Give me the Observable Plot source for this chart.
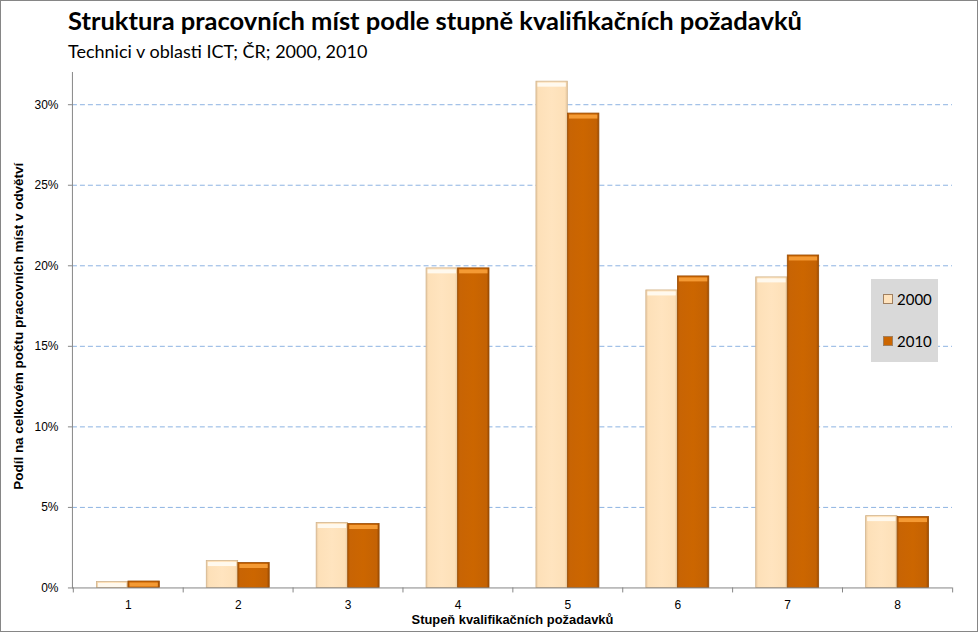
<!DOCTYPE html>
<html>
<head>
<meta charset="utf-8">
<script src="https://cdn.jsdelivr.net/npm/d3@7"></script>
<script src="https://cdn.jsdelivr.net/npm/@observablehq/plot@0.6"></script>
<style>
  html, body { margin: 0; padding: 0; background: #fff; }
  #chart { position: relative; width: 978px; height: 632px; box-sizing: border-box; border: 1px solid #868686; overflow: hidden; }
  #title { position: absolute; left: 67px; top: 4px; font-family: Lato, "Open Sans", sans-serif; font-weight: bold; font-size: 25.5px; color: #000; white-space: nowrap; }
  #subtitle { position: absolute; left: 67px; top: 39px; font-family: Lato, "Open Sans", sans-serif; font-size: 18px; color: #000; white-space: nowrap; }
  #plot { position: absolute; left: -1px; top: 59px; }
  #legend { position: absolute; left: 870px; top: 278px; width: 67px; height: 83px; background: #d9d9d9; font-family: Lato, "Open Sans", sans-serif; font-size: 15px; color: #000; }
  .item { position: absolute; left: 12px; display: flex; align-items: center; }
  .sw { width: 8px; height: 8px; margin-right: 4px; border: 1px solid #a08060; }
</style>
</head>
<body>
<div id="chart">
  <div id="title"></div>
  <div id="subtitle"></div>
  <div id="plot"></div>
  <div id="legend"></div>
</div>
<script>
const title = "Struktura pracovních míst podle stupně kvalifikačních požadavků";
const subtitle = "Technici v oblasti ICT; ČR; 2000, 2010";
const yLabel = "Podíl na celkovém počtu pracovních míst v odvětví";
const xLabel = "Stupeň kvalifikačních požadavků";
const categories = ["1", "2", "3", "4", "5", "6", "7", "8"];
const series = ["2000", "2010"];
const v2000 = [0.37, 1.67, 4.03, 19.84, 31.43, 18.47, 19.28, 4.46];
const v2010 = [0.40, 1.55, 3.97, 19.84, 29.45, 19.34, 20.64, 4.40];
const yTicks = [0, 5, 10, 15, 20, 25, 30];
const colors = {"2000": "#ffe3bd", "2010": "#cc6600"};

document.getElementById("title").textContent = title;
document.getElementById("subtitle").textContent = subtitle;

const d2000 = categories.map((c, i) => ({cat: c, v: v2000[i]}));
const d2010 = categories.map((c, i) => ({cat: c, v: v2010[i]}));

const axisColor = "#868686";
const chart = Plot.plot({
  width: 978,
  height: 573,
  marginTop: 12,
  marginBottom: 45,
  marginLeft: 72,
  marginRight: 25,
  style: {fontFamily: "'Liberation Sans', Arial, sans-serif", fontSize: "12px", background: "transparent", color: "#000"},
  x: {domain: categories, padding: 0, axis: null},
  y: {domain: [0, 32], axis: null},
  marks: [
    Plot.ruleY(yTicks.filter(d => d > 0), {stroke: "#8db3e2", strokeDasharray: "5,3"}),
    Plot.barY(d2000, {x: "cat", y: "v", insetLeft: 23.5, insetRight: 55.1, fill: "url(#g2000)", stroke: "#d2b48c", strokeWidth: 0.8}),
    Plot.barY(d2010, {x: "cat", y: "v", insetLeft: 55.1, insetRight: 23.5, fill: "url(#g2010)", stroke: "#9a4d05", strokeWidth: 0.8}),
    Plot.tickY(d2000, {x: "cat", y: "v", insetLeft: 25, insetRight: 56.6, dy: 3, strokeWidth: 4, stroke: "#fff9ee"}),
    Plot.tickY(d2010, {x: "cat", y: "v", insetLeft: 56.6, insetRight: 25, dy: 3, strokeWidth: 4, stroke: "#f49a34"}),
    Plot.frame({anchor: "left", stroke: axisColor}),
    Plot.ruleY([0], {stroke: axisColor}),
    Plot.axisY({ticks: yTicks, tickSize: 4, tickPadding: 10, tickFormat: d => d + "%", label: null, stroke: axisColor}),
    Plot.axisX({tickSize: 0, tickPadding: 13, label: null}),
    Plot.axisX({tickSize: 5, text: null, label: null, dx: -55.125, stroke: axisColor}),
    Plot.axisX({ticks: ["8"], tickSize: 5, text: null, label: null, dx: 55.125, stroke: axisColor}),
    Plot.text([yLabel], {text: d => d, frameAnchor: "left", textAnchor: "middle", rotate: -90, dx: -54, dy: -4, fontWeight: "bold", fontSize: 13.5}),
    Plot.text([xLabel], {text: d => d, frameAnchor: "bottom", dy: 36, fontWeight: "bold", fontSize: 12.9})
  ]
});

const ns = "http://www.w3.org/2000/svg";
const defs = document.createElementNS(ns, "defs");
function grad(id, stops) {
  const g = document.createElementNS(ns, "linearGradient");
  g.setAttribute("id", id);
  g.setAttribute("x1", "0"); g.setAttribute("x2", "1"); g.setAttribute("y1", "0"); g.setAttribute("y2", "0");
  for (const [o, c] of stops) {
    const s = document.createElementNS(ns, "stop");
    s.setAttribute("offset", o); s.setAttribute("stop-color", c);
    g.appendChild(s);
  }
  defs.appendChild(g);
}
grad("g2000", [["0", "#e8c9a2"], ["0.08", "#fde0b8"], ["0.5", "#ffe4bf"], ["0.92", "#fde0b8"], ["1", "#e6c8a0"]]);
grad("g2010", [["0", "#b25803"], ["0.08", "#c86404"], ["0.5", "#cc6600"], ["0.92", "#c46203"], ["1", "#9a4b02"]]);
chart.insertBefore(defs, chart.firstChild);
document.getElementById("plot").appendChild(chart);

const legend = document.getElementById("legend");
series.forEach((s, i) => {
  const item = document.createElement("div");
  item.className = "item";
  item.style.top = (11 + i * 42) + "px";
  const sw = document.createElement("span");
  sw.className = "sw";
  sw.style.background = colors[s];
  const t = document.createElement("span");
  t.textContent = s;
  item.appendChild(sw);
  item.appendChild(t);
  legend.appendChild(item);
});
</script>
</body>
</html>
